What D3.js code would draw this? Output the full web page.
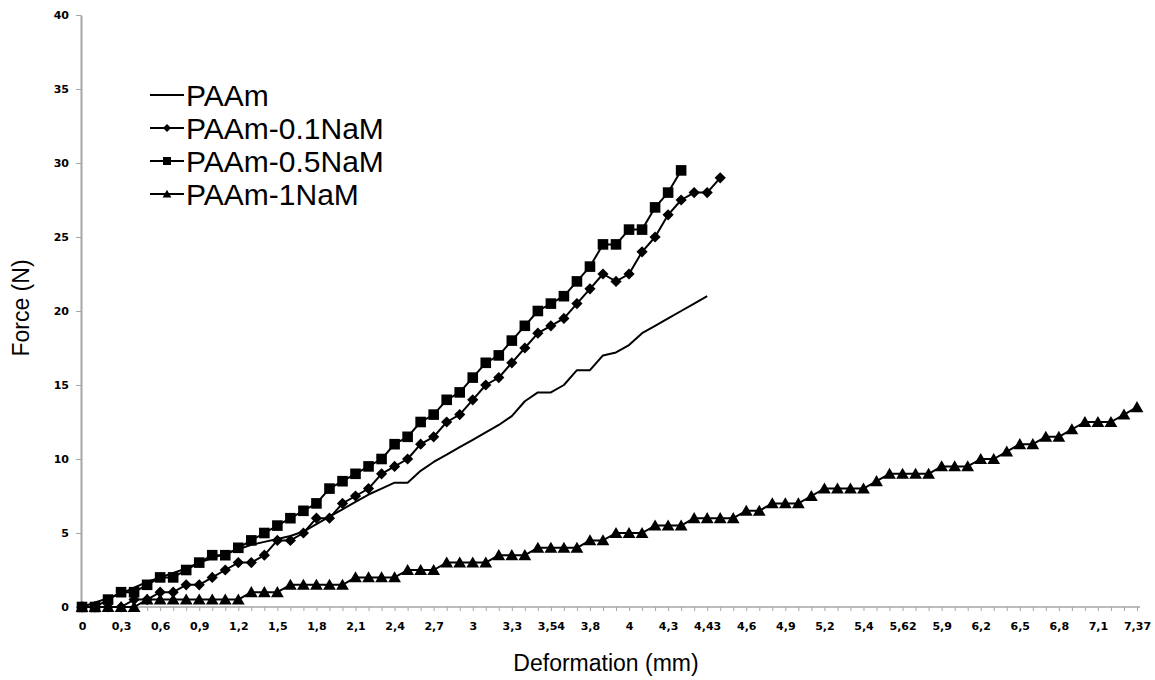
<!DOCTYPE html>
<html>
<head>
<meta charset="UTF-8">
<script src="https://d3js.org/d3.v7.min.js"></script>
<style>
  body { margin: 0; background: #fff; }
  svg { display: block; background: #fff; }
  .axis path, .axis line { stroke: #a6a6a6; }
  .axis text { font-family: "DejaVu Sans", sans-serif; font-weight: bold; font-size: 11px; fill: #000; }
  .title { font-family: "Liberation Sans", Arial, sans-serif; font-size: 23px; fill: #000; }
  .legend text { font-family: "Liberation Sans", Arial, sans-serif; font-size: 30px; fill: #000; }
</style>
</head>
<body>
<svg width="1155" height="680"></svg>
<script>
// categories (x axis is categorical, as in the spreadsheet chart)
const categories = ["0","0,1","0,2","0,3","0,4","0,5","0,6","0,7","0,8","0,9",
  "1","1,1","1,2","1,3","1,4","1,5","1,6","1,7","1,8","1,9",
  "2","2,1","2,2","2,3","2,4","2,5","2,6","2,7","2,8","2,9",
  "3","3,1","3,2","3,3","3,38","3,46","3,54","3,62","3,7","3,8",
  "3,86","3,93","4","4,1","4,2","4,3","4,34","4,38","4,43","4,49",
  "4,54","4,6","4,7","4,8","4,9","5","5,1","5,2","5,27","5,33",
  "5,4","5,47","5,54","5,62","5,71","5,8","5,9","6","6,1","6,2",
  "6,3","6,4","6,5","6,6","6,7","6,8","6,9","7","7,1","7,19","7,28","7,37"];

const yTicks = [0, 5, 10, 15, 20, 25, 30, 35, 40];

// series values (Force, N) per category
const paam = [0, 0.3, 0.6, 0.9, 1.3, 1.7, 2.0, 2.3, 2.6, 3.0,
  3.3, 3.6, 3.9, 4.2, 4.4, 4.6, 4.8, 5.1, 5.6, 6.1,
  6.6, 7.1, 7.6, 8.0, 8.4, 8.4, 9.2, 9.8, 10.3, 10.8,
  11.3, 11.8, 12.3, 12.9, 13.9, 14.5, 14.5, 15.0, 16.0, 16.0,
  17.0, 17.2, 17.7, 18.5, 19.0, 19.5, 20.0, 20.5, 21.0];

const paam01 = [0, 0, 0, 0, 0.5, 0.5, 1, 1, 1.5, 1.5,
  2, 2.5, 3, 3, 3.5, 4.5, 4.5, 5, 6, 6,
  7, 7.5, 8, 9, 9.5, 10, 11, 11.5, 12.5, 13,
  14, 15, 15.5, 16.5, 17.5, 18.5, 19, 19.5, 20.5, 21.5,
  22.5, 22, 22.5, 24, 25, 26.5, 27.5, 28, 28, 29];

const paam05 = [0, 0, 0.5, 1, 1, 1.5, 2, 2, 2.5, 3,
  3.5, 3.5, 4, 4.5, 5, 5.5, 6, 6.5, 7, 8,
  8.5, 9, 9.5, 10, 11, 11.5, 12.5, 13, 14, 14.5,
  15.5, 16.5, 17, 18, 19, 20, 20.5, 21, 22, 23,
  24.5, 24.5, 25.5, 25.5, 27, 28, 29.5];

const paam1 = [0, 0, 0, 0, 0, 0.5, 0.5, 0.5, 0.5, 0.5,
  0.5, 0.5, 0.5, 1, 1, 1, 1.5, 1.5, 1.5, 1.5,
  1.5, 2, 2, 2, 2, 2.5, 2.5, 2.5, 3, 3,
  3, 3, 3.5, 3.5, 3.5, 4, 4, 4, 4, 4.5,
  4.5, 5, 5, 5, 5.5, 5.5, 5.5, 6, 6, 6,
  6, 6.5, 6.5, 7, 7, 7, 7.5, 8, 8, 8,
  8, 8.5, 9, 9, 9, 9, 9.5, 9.5, 9.5, 10,
  10, 10.5, 11, 11, 11.5, 11.5, 12, 12.5, 12.5, 12.5,
  13, 13.5];

const seriesNames = ["PAAm", "PAAm-0.1NaM", "PAAm-0.5NaM", "PAAm-1NaM"];

const svg = d3.select("svg");

const x = d3.scalePoint().domain(categories).range([82, 1137]);
const y = d3.scaleLinear().domain([0, 40]).range([607, 15]);

// axes
const xAxis = svg.append("g").attr("class", "axis")
  .attr("transform", "translate(0,607)")
  .call(d3.axisBottom(x).tickSize(4).tickSizeOuter(0)
    .tickFormat((d, i) => i % 3 === 0 ? d : ""));
xAxis.select(".domain").attr("stroke-width", 1.5).attr("d", "M82,0H1140");
xAxis.selectAll("text").attr("dy", "1.45em");

const yAxis = svg.append("g").attr("class", "axis")
  .attr("transform", "translate(81,0)")
  .call(d3.axisLeft(y).tickValues(yTicks).tickSize(5).tickSizeOuter(0).tickPadding(7));
yAxis.select(".domain").attr("stroke-width", 2);

svg.append("text").attr("class", "title")
  .attr("x", 606).attr("y", 671).attr("text-anchor", "middle")
  .text("Deformation (mm)");
svg.append("text").attr("class", "title")
  .attr("transform", "translate(29,308) rotate(-90)").attr("text-anchor", "middle")
  .text("Force (N)");

// marker shapes
function markerPath(type, s) {
  if (type === "diamond") return `M0,${-s}L${s},0L0,${s}L${-s},0Z`;
  if (type === "square") return `M${-s},${-s}H${s}V${s}H${-s}Z`;
  if (type === "triangle") return `M0,${-s * 1.05}L${s * 1.1},${s * 0.85}H${-s * 1.1}Z`;
  return null;
}

const line = d3.line().x((d, i) => x(categories[i])).y(d => y(d));

const plots = [
  { data: paam1, marker: "triangle", size: 5.8 },
  { data: paam, marker: null },
  { data: paam01, marker: "diamond", size: 5.6 },
  { data: paam05, marker: "square", size: 5.3 }
];

plots.forEach(p => {
  svg.append("path").datum(p.data)
    .attr("fill", "none").attr("stroke", "#000").attr("stroke-width", 2)
    .attr("stroke-linejoin", "round")
    .attr("d", line);
  if (p.marker) {
    svg.append("g").selectAll("path").data(p.data).join("path")
      .attr("transform", (d, i) => `translate(${x(categories[i])},${y(d)})`)
      .attr("d", markerPath(p.marker, p.size))
      .attr("fill", "#000");
  }
});

// legend
const legend = svg.append("g").attr("class", "legend");
const legMarkers = [null, "diamond", "square", "triangle"];
seriesNames.forEach((name, i) => {
  const cy = 95 + i * 33;
  const g = legend.append("g").attr("transform", `translate(0,${cy})`);
  g.append("line").attr("x1", 150).attr("x2", 184).attr("y1", 0).attr("y2", 0)
    .attr("stroke", "#000").attr("stroke-width", 2);
  if (legMarkers[i]) {
    g.append("path").attr("transform", "translate(167,0)")
      .attr("d", markerPath(legMarkers[i], 4)).attr("fill", "#000");
  }
  g.append("text").attr("x", 186).attr("y", 0).attr("dy", "0.36em").text(name);
});
</script>
</body>
</html>
